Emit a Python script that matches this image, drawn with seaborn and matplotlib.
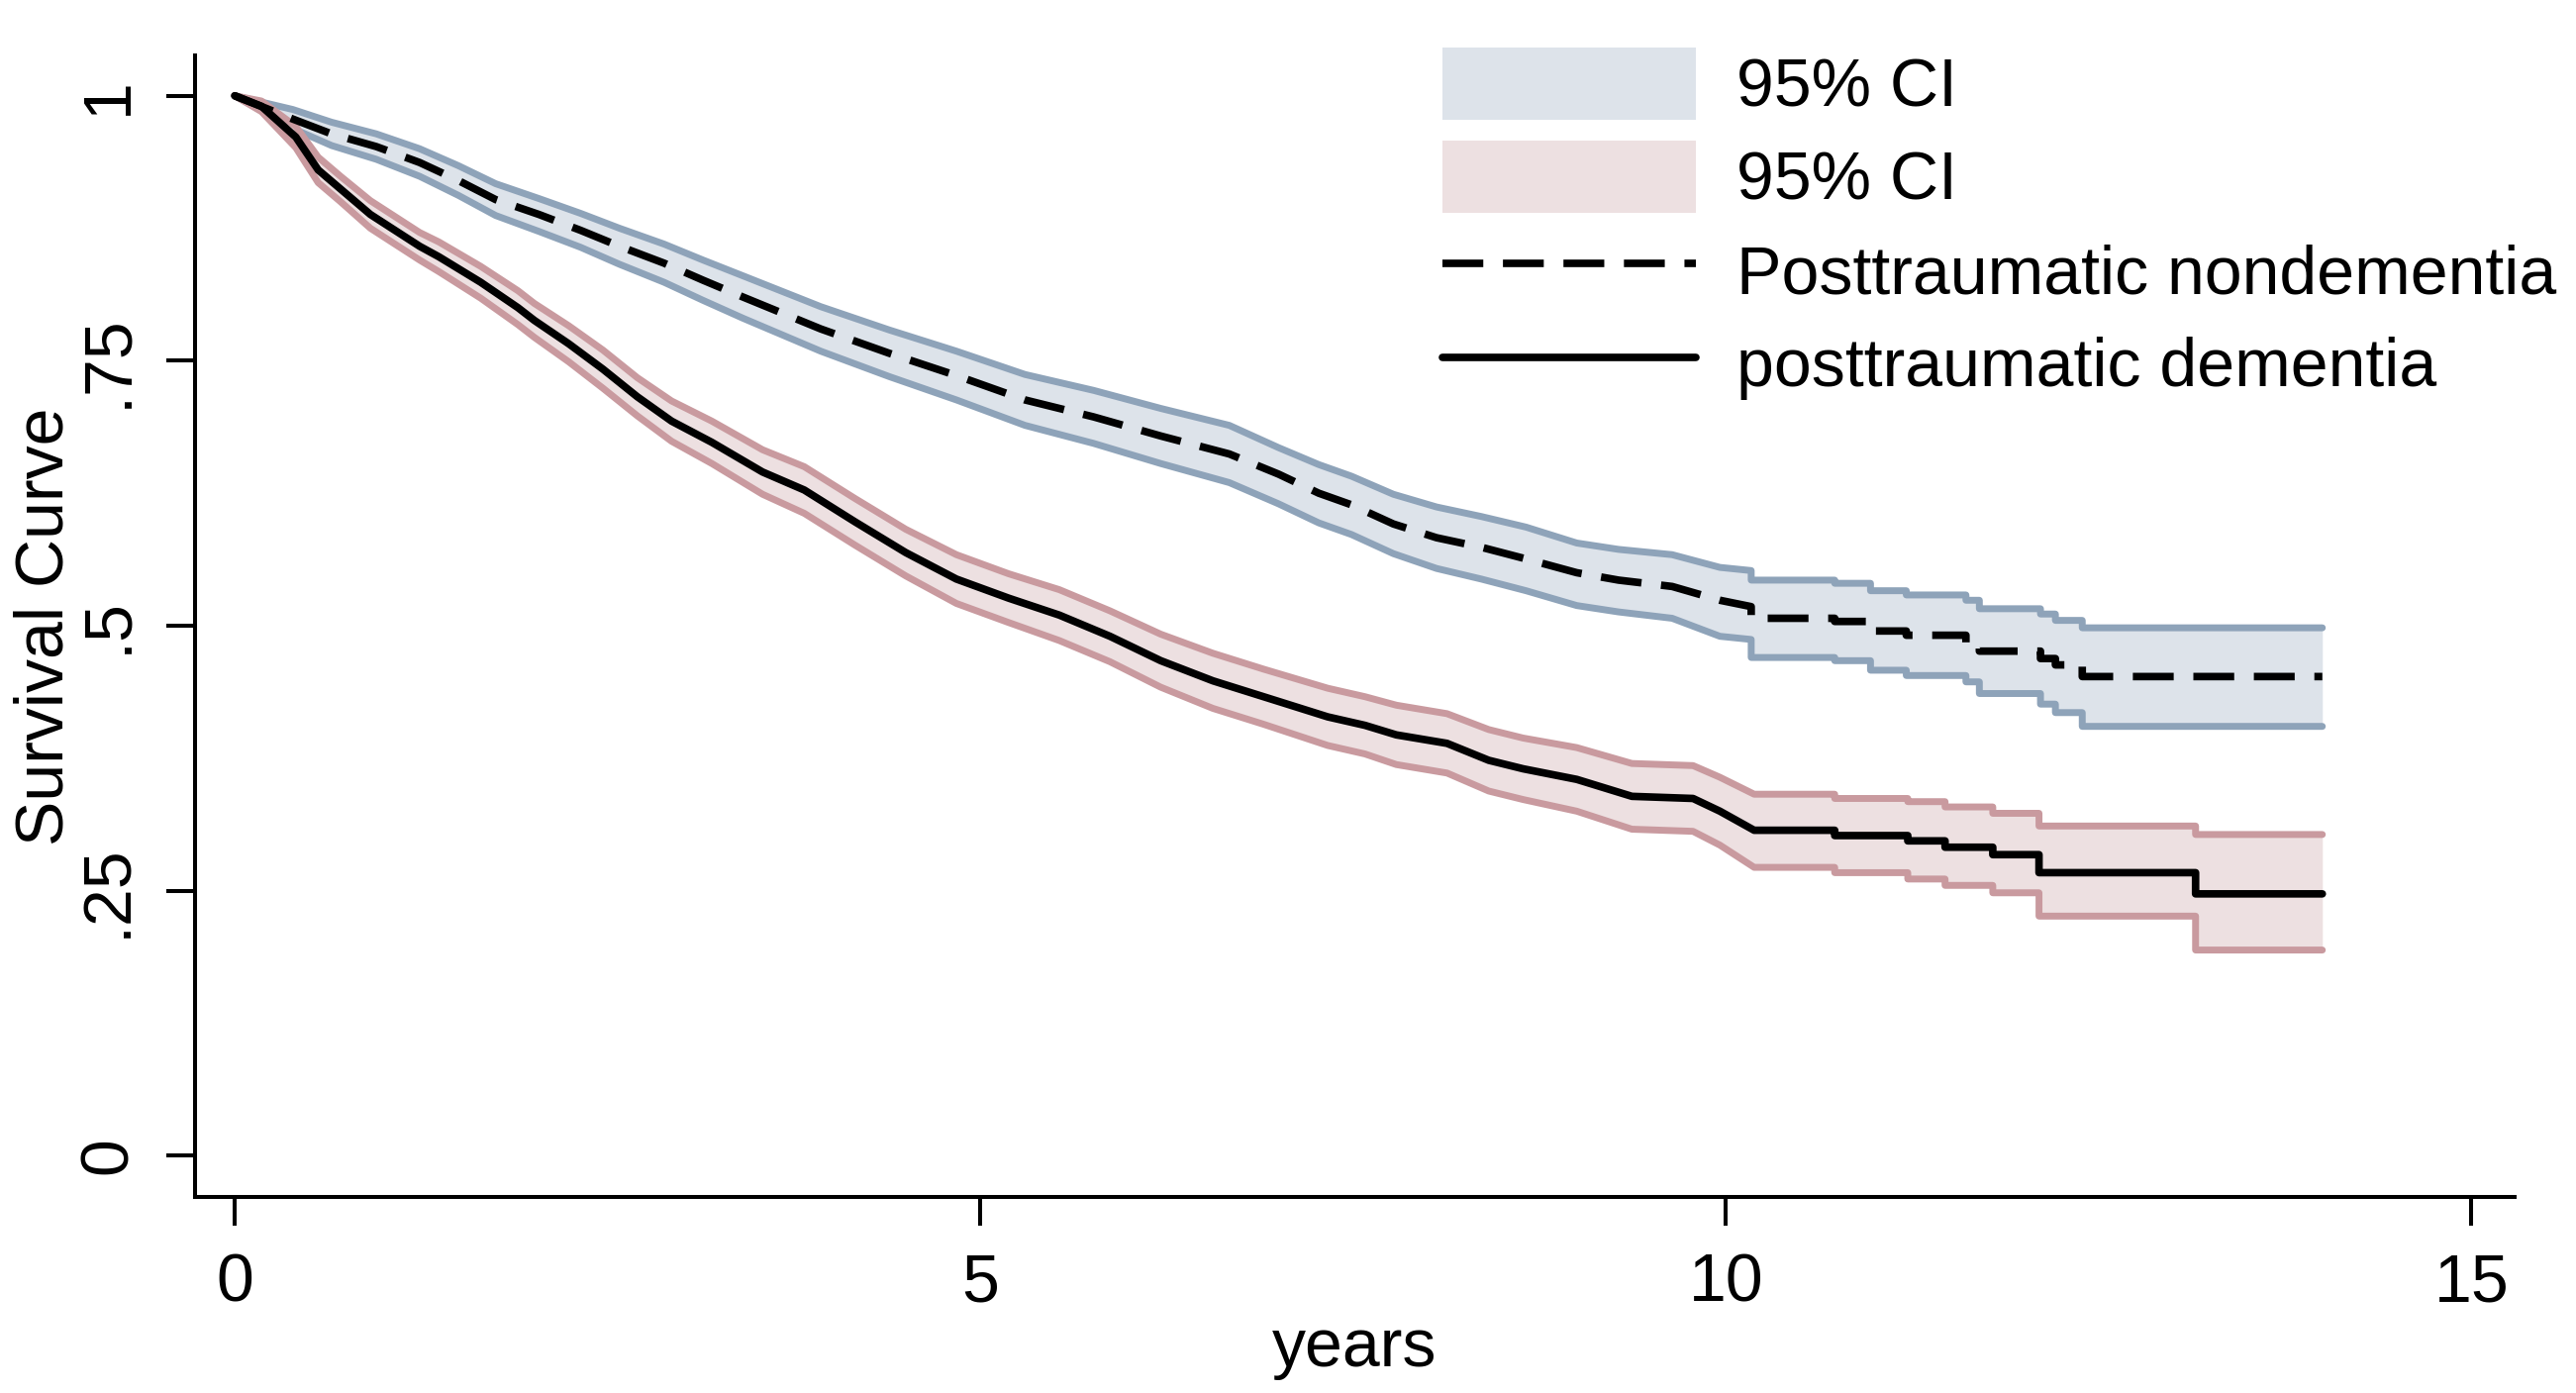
import matplotlib
matplotlib.use('Agg')
import matplotlib.pyplot as plt
from matplotlib.patches import Patch
from matplotlib.lines import Line2D
import seaborn as sns

# Kaplan-Meier estimates (years, survival).
# Early on the curves fall in many tiny steps, so they are traced as lines;
# the later, clearly visible steps are given as pairs of points at the same time.

# posttraumatic nondementia
t_nd = [0, 0.39, 0.65, 0.95, 1.24, 1.50, 1.75, 2.04, 2.32, 2.58, 2.88, 3.14, 3.41,
        3.93, 4.39, 4.84, 5.30, 5.76, 6.21, 6.67, 7.00, 7.27, 7.49, 7.77, 8.06, 8.36,
        8.66, 9.00, 9.28, 9.64, 9.96, 10.17, 10.17, 10.73, 10.73, 10.97, 10.97,
        11.21, 11.21, 11.61, 11.61, 11.70, 11.70, 12.11, 12.11, 12.21, 12.21,
        12.39, 12.39, 14.0]
s_nd = [1, .978, .964, .952, .937, .920, .902, .888, .873, .858, .842, .826, .810,
        .780, .757, .736, .713, .697, .679, .662, .643, .625, .614, .596, .583, .574,
        .563, .550, .543, .537, .524, .518, .507, .507, .504, .504, .495,
        .495, .491, .491, .484, .484, .476, .476, .469, .469, .463,
        .463, .452, .452]
hi_nd = [1, .987, .975, .964, .950, .934, .917, .903, .889, .875, .860, .845, .830,
         .801, .779, .759, .737, .722, .705, .689, .668, .652, .641, .624, .612, .603,
         .593, .578, .572, .567, .555, .552, .543, .543, .540, .540, .533,
         .533, .529, .529, .524, .524, .516, .516, .511, .511, .505,
         .505, .498, .498]
lo_nd = [1, .969, .953, .940, .924, .906, .887, .872, .857, .841, .824, .807, .790,
         .759, .735, .713, .689, .672, .653, .635, .615, .597, .586, .568, .554, .544,
         .533, .519, .513, .507, .490, .487, .470, .470, .467, .467, .458,
         .458, .453, .453, .447, .447, .436, .436, .426, .426, .418,
         .418, .405, .405]

# posttraumatic dementia
t_d = [0, 0.18, 0.41, 0.56, 0.71, 0.91, 1.24, 1.37, 1.65, 1.90, 2.01, 2.24, 2.47,
       2.70, 2.93, 3.20, 3.54, 3.82, 4.16, 4.50, 4.84, 5.19, 5.53, 5.87, 6.21, 6.56,
       6.90, 7.33, 7.58, 7.79, 8.13, 8.41, 8.64, 9.00, 9.37, 9.78, 9.96, 10.19,
       10.73, 10.73, 11.22, 11.22, 11.47, 11.47, 11.79, 11.79, 12.10, 12.10,
       13.15, 13.15, 14.0]
s_d = [1, .990, .961, .930, .912, .888, .858, .848, .824, .800, .788, .766, .742,
       .716, .693, .673, .645, .628, .598, .569, .544, .526, .510, .490, .467, .448,
       .433, .414, .406, .397, .389, .373, .365, .355, .339, .337, .325, .307,
       .307, .302, .302, .297, .297, .291, .291, .284, .284, .267,
       .267, .247, .247]
hi_d = [1, .995, .971, .942, .924, .901, .871, .862, .839, .816, .804, .783, .760,
        .734, .712, .693, .666, .650, .620, .591, .567, .549, .534, .514, .492, .474,
        .459, .441, .433, .425, .417, .402, .394, .385, .370, .368, .357, .341,
        .341, .337, .337, .334, .334, .329, .329, .323, .323, .311,
        .311, .303, .303]
lo_d = [1, .985, .951, .918, .900, .875, .845, .834, .809, .784, .772, .749, .724,
        .698, .674, .653, .624, .606, .576, .547, .521, .503, .486, .466, .442, .422,
        .407, .387, .379, .369, .361, .344, .336, .325, .308, .306, .293, .272,
        .272, .267, .267, .261, .261, .255, .255, .248, .248, .226,
        .226, .194, .194]

x_ticks = [0, 5, 10, 15]
y_ticks = [0, .25, .5, .75, 1]
y_ticklabels = ['0', '.25', '.5', '.75', '1']
legend_labels = ['95% CI', '95% CI', 'Posttraumatic nondementia', 'posttraumatic dementia']

BLUE_FILL = '#dde3ea'
BLUE_EDGE = '#8ea3b9'
RED_FILL = '#ede0e1'
RED_EDGE = '#c99a9f'
DASH = (0, (5.4, 2.6))

sns.set_style('white')
plt.rcParams['font.family'] = ['Liberation Sans', 'DejaVu Sans']
plt.rcParams['text.color'] = 'black'
plt.rcParams['axes.labelcolor'] = 'black'

fig = plt.figure(figsize=(26.02, 14.07), dpi=100)
ax = fig.add_axes([0.0757, 0.1407, 0.9005, 0.8195])

# confidence bands
ax.fill_between(t_nd, lo_nd, hi_nd, color=BLUE_FILL, lw=0, zorder=1)
for band in (hi_nd, lo_nd):
    sns.lineplot(x=t_nd, y=band, ax=ax, color=BLUE_EDGE, lw=5, estimator=None,
                 sort=False, solid_capstyle='round', solid_joinstyle='round', zorder=2)

ax.fill_between(t_d, lo_d, hi_d, color=RED_FILL, lw=0, zorder=3)
for band in (hi_d, lo_d):
    sns.lineplot(x=t_d, y=band, ax=ax, color=RED_EDGE, lw=5, estimator=None,
                 sort=False, solid_capstyle='round', solid_joinstyle='round', zorder=4)

# survival curves
sns.lineplot(x=t_nd, y=s_nd, ax=ax, color='black', lw=5.5, estimator=None, sort=False,
             linestyle=DASH, zorder=5)
sns.lineplot(x=t_d, y=s_d, ax=ax, color='black', lw=5.5, estimator=None, sort=False,
             solid_joinstyle='round', zorder=5)

ax.set_xlim(-0.266, 15.29)
ax.set_ylim(-0.039, 1.038)
ax.set_xticks(x_ticks)
ax.set_xticklabels([str(v) for v in x_ticks])
ax.set_yticks(y_ticks)
ax.set_yticklabels(y_ticklabels, rotation=90, va='center')

sns.despine(ax=ax)
for side in ('left', 'bottom'):
    ax.spines[side].set_linewidth(2.9)
    ax.spines[side].set_color('black')
ax.tick_params(axis='both', direction='out', length=21, width=2.9, pad=19,
               labelsize=49, colors='black', left=True, bottom=True)

ax.set_xlabel('years', fontsize=49, labelpad=1, color='black')
ax.set_ylabel('Survival Curve', fontsize=49, labelpad=0, color='black')

handles = [Patch(facecolor=BLUE_FILL, edgecolor='none'),
           Patch(facecolor=RED_FILL, edgecolor='none'),
           Line2D([], [], color='black', lw=5.5, linestyle=DASH),
           Line2D([], [], color='black', lw=5.5)]
ax.legend(handles, legend_labels, loc='upper left',
          bbox_to_anchor=(1457 / 2602, 1 - 48 / 1407), bbox_transform=fig.transFigure,
          frameon=False, fontsize=49, handlelength=3.76, handleheight=1.27,
          handletextpad=0.6, labelspacing=0.31, borderpad=0, borderaxespad=0,
          labelcolor='black')

fig.savefig('out.png', dpi=100, facecolor='white')
